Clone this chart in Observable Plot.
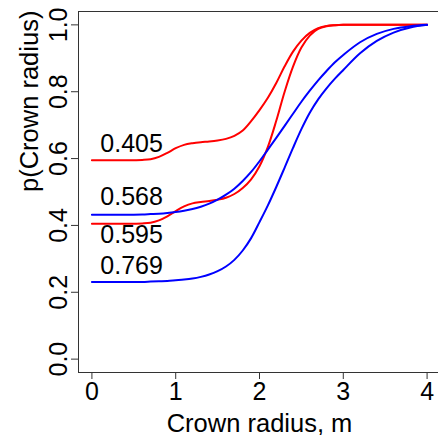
<!DOCTYPE html>
<html><head><meta charset="utf-8">
<script src="https://cdn.jsdelivr.net/npm/d3@7"></script>
<script src="https://cdn.jsdelivr.net/npm/@observablehq/plot@0.6"></script>
<style>body{margin:0;background:#fff} svg{display:block}</style>
</head><body><div id="chart"></div>
<script>
const crownRadius = [0,0.4,0.6,0.7,0.8,0.9,1.0,1.1,1.2,1.3,1.4,1.5,1.6,1.7,1.8,1.9,2.0,2.1,2.2,2.3,2.4,2.5,2.6,2.7,2.8,2.9,3.0,3.2,3.4,3.6,3.8,4.0];
const red405 = [.595,.595,.596,.598,.605,.617,.631,.641,.646,.649,.651,.654,.659,.668,.684,.712,.745,.782,.826,.876,.92,.953,.976,.99,.997,.999,1,1,1,1,1,1];
const red595 = [.405,.405,.406,.408,.415,.427,.443,.457,.466,.47,.473,.477,.483,.494,.512,.538,.577,.635,.713,.8,.875,.932,.968,.988,.996,.999,1,1,1,1,1,1];
const blue568 = [.432,.432,.433,.434,.435,.437,.44,.444,.449,.456,.465,.477,.492,.51,.533,.56,.592,.627,.662,.698,.734,.77,.803,.834,.862,.888,.91,.948,.973,.988,.996,1];
const blue769 = [.231,.231,.231,.232,.233,.234,.236,.238,.241,.246,.253,.263,.277,.297,.325,.362,.41,.46,.515,.573,.632,.688,.737,.777,.81,.839,.865,.915,.952,.977,.992,1];
const seriesNames = ["0.405","0.595","0.568","0.769"];
const seriesValues = [red405, red595, blue568, blue769];
const seriesColors = ["#ff0000","#ff0000","#0000ff","#0000ff"];
const labelText = ["0.405","0.568","0.595","0.769"];
const labelX = [0.1,0.1,0.1,0.1];
const labelY = [0.643,0.484,0.371,0.279];
const xTicks = [0,1,2,3,4];
const yTicks = [0,0.2,0.4,0.6,0.8,1.0];

const rows = [];
seriesNames.forEach((s, i) => crownRadius.forEach((x, j) => rows.push({series: s, x, y: seriesValues[i][j], color: seriesColors[i]})));
const labels = labelText.map((t, i) => ({t, x: labelX[i], y: labelY[i]}));

const font = "'Liberation Sans', Arial, Helvetica, sans-serif";
const chart = Plot.plot({
  width: 438, height: 435,
  marginLeft: 78, marginRight: -2, marginTop: 11, marginBottom: 63,
  style: {fontFamily: font, fontSize: "25px", color: "#000", background: "#fff"},
  x: {domain: [-0.16, 4.16]},
  y: {domain: [-0.04, 1.04]},
  marks: [
    Plot.frame({stroke: "#333", strokeWidth: 1}),
    Plot.axisX({ticks: xTicks, tickFormat: d => String(d), tickSize: 7, tickPadding: 3, fontSize: 25, label: null, stroke: "#333"}),
    Plot.axisY({ticks: yTicks, tickFormat: d => d.toFixed(1), tickSize: 7, tickPadding: 5, tickRotate: -90, fontSize: 25, label: null, stroke: "#333"}),
    Plot.text(["Crown radius, m"], {frameAnchor: "bottom", dy: 59, lineAnchor: "bottom", fontSize: 25.5, fill: "#000"}),
    Plot.text(["p(Crown radius)"], {frameAnchor: "left", dx: -41, rotate: -90, lineAnchor: "bottom", fontSize: 25.5, fill: "#000"}),
    Plot.line(rows, {x: "x", y: "y", z: "series", stroke: "color", strokeWidth: 2, curve: "catmull-rom"}),
    Plot.text(labels, {x: "x", y: "y", text: "t", textAnchor: "start", lineAnchor: "middle", fontSize: 25, fill: "#000"})
  ]
});
document.getElementById("chart").appendChild(chart);
</script>
</body></html>
